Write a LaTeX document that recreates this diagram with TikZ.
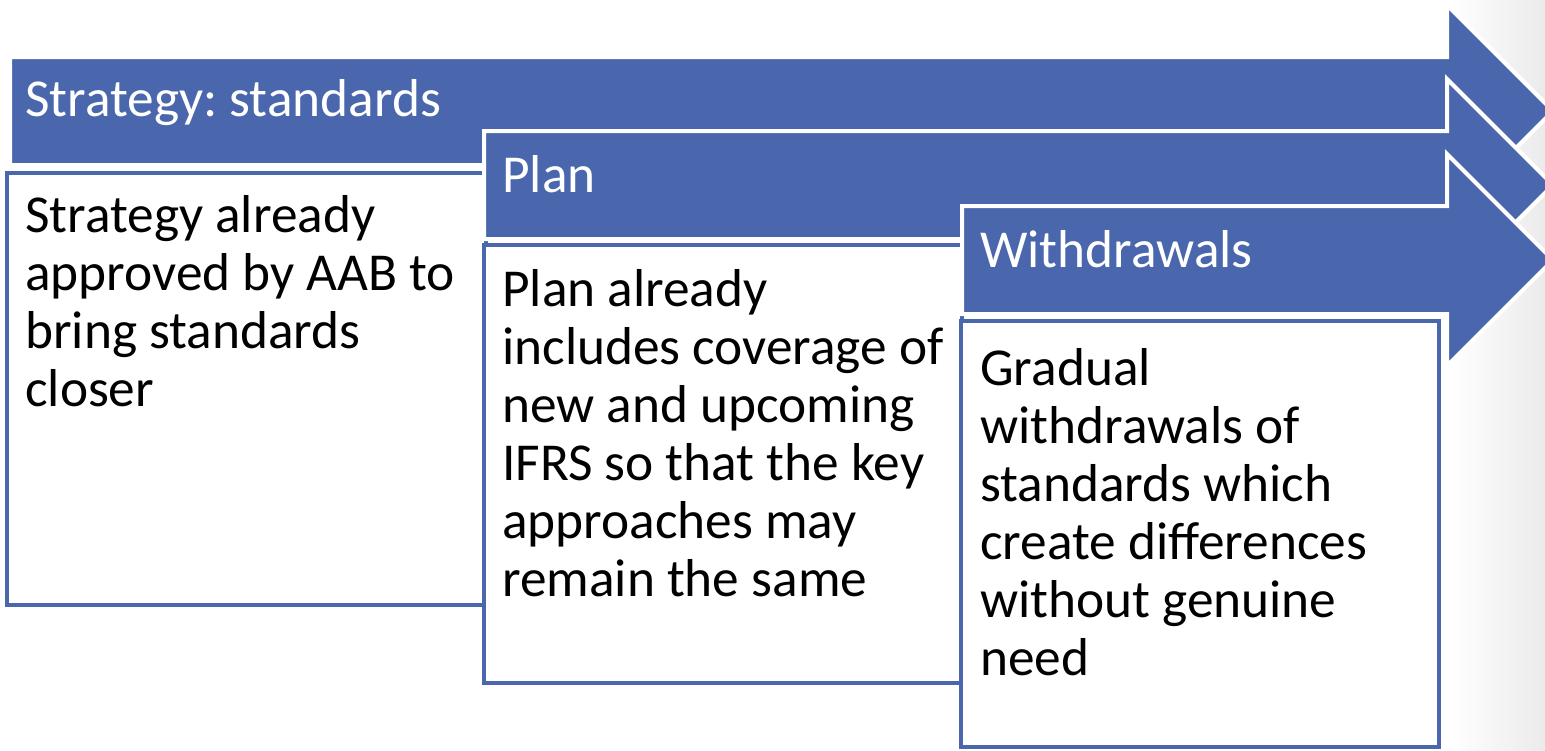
\documentclass[tikz,border=0pt]{standalone}
\usepackage{fontspec}
\setmainfont{Carlito}
\frenchspacing
\definecolor{chevron}{HTML}{4A66AC}
\begin{document}
\begin{tikzpicture}[x=0.75pt,y=-0.75pt,
  arrowshape/.style={fill=chevron,draw=white,line width=3pt,line join=miter},
  panel/.style={fill=white,draw=chevron,line width=3pt},
  txt/.style={font=\fontsize{40}{43.5}\selectfont},
  title/.style={txt,anchor=base west,inner sep=0pt,text=white},
  body/.style={txt,anchor=base west,inner sep=0pt,align=left}]
\useasboundingbox (0,0) rectangle (1545,750);
\clip (0,0) rectangle (1545,750);
% faint grey on the right margin
\shade[left color=white,right color=black!8] (1450,0) rectangle (1545,750);

% step 1 (body text anchored at the baseline of its last line)
\draw[arrowshape] (10,57) -- (1447,57) -- (1447,5) -- (1553,111) -- (1447,217)
  -- (1447,165) -- (10,165) -- cycle;
\node[title] (t1) at (25,116) {Strategy: standards};
\draw[panel] (7,173) rectangle (486,605);
\node[body] (b1) at (25,406) {Strategy already\\approved by AAB to\\bring standards\\closer};

% step 2
\draw[arrowshape] (484,131) -- (1447,131) -- (1447,79) -- (1553,185) -- (1447,291)
  -- (1447,239) -- (484,239) -- cycle;
\node[title] (t2) at (502,192) {Plan};
\draw[panel] (484,245) rectangle (962,683);
\node[body] (b2) at (502,596) {Plan already\\includes coverage of\\new and upcoming\\IFRS so that the key\\approaches may\\remain the same};

% step 3
\draw[arrowshape] (962,206) -- (1447,206) -- (1447,154) -- (1553,260) -- (1447,366)
  -- (1447,314) -- (962,314) -- cycle;
\node[title] (t3) at (980,267) {Withdrawals};
\draw[panel] (961,321) rectangle (1439,747);
\node[body] (b3) at (980,675) {Gradual\\withdrawals of\\standards which\\create differences\\without genuine\\need};
\end{tikzpicture}
\end{document}
